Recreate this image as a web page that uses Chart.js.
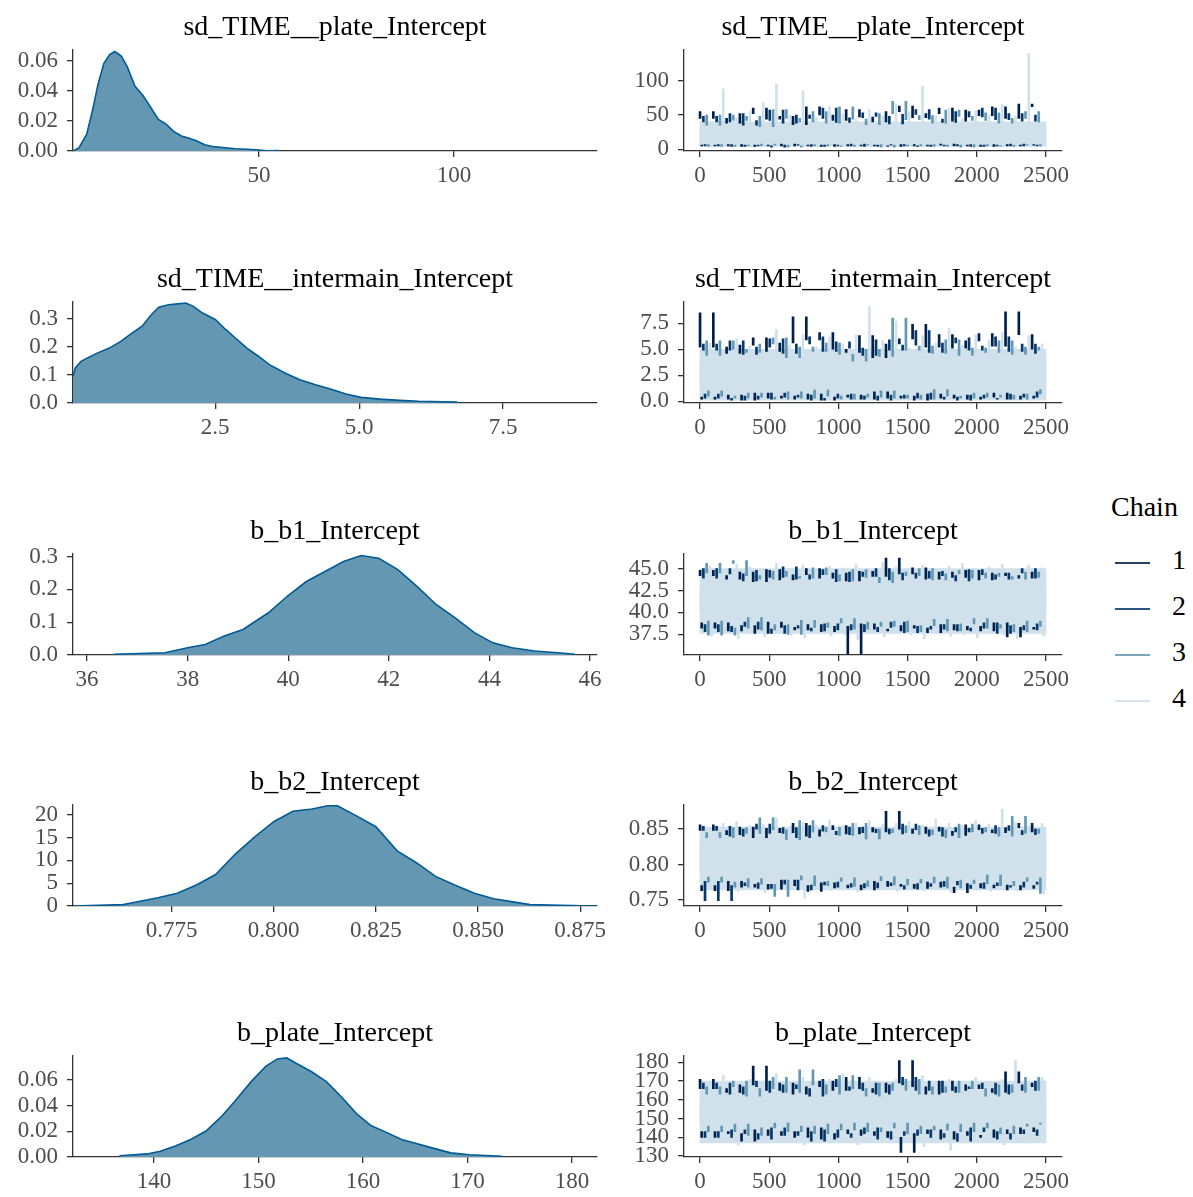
<!DOCTYPE html>
<html>
<head>
<meta charset="utf-8">
<script src="https://cdn.jsdelivr.net/npm/chart.js@4.4.1/dist/chart.umd.min.js"></script>
<style>
  body { margin: 0; background: #fff; width: 1193px; height: 1197px; position: relative; overflow: hidden; font-family: 'Liberation Serif', serif; }
  canvas { position: absolute; }
  .leg { position: absolute; font-size: 28px; line-height: 32px; color: #000; }
  .sw { display: inline-block; width: 35px; height: 2px; vertical-align: middle; margin-right: 22px; opacity: 0.85; }
</style>
</head>
<body>
<div class="leg" style="left:1111px;top:491px;">Chain</div>
<div class="leg" style="left:1115px;top:544px;"><span class="sw" style="background:#011f4b"></span>1</div>
<div class="leg" style="left:1115px;top:590px;"><span class="sw" style="background:#03396c"></span>2</div>
<div class="leg" style="left:1115px;top:636px;"><span class="sw" style="background:#6497b1"></span>3</div>
<div class="leg" style="left:1115px;top:682px;"><span class="sw" style="background:#d1e1ec"></span>4</div>
<script>
var chainColors = ['#011f4b', '#03396c', '#6497b1', '#d1e1ec'];
var paramNames = ['sd_TIME__plate_Intercept', 'sd_TIME__intermain_Intercept', 'b_b1_Intercept', 'b_b2_Intercept', 'b_plate_Intercept'];

// posterior densities (x = parameter value, y = density)
var densPlateX = [2.3, 3.8, 5.8, 7.3, 8.7, 10.2, 11.7, 13.0, 14.7, 16.2, 18.2, 20.2, 22.2, 24.2, 26.1, 28.1, 30.1, 32.1, 34.1, 36.1, 38.1, 42.0, 44.0, 47.0, 50.0, 52.0, 55.0];
var densPlateY = [0, 0.002, 0.011, 0.027, 0.044, 0.058, 0.064, 0.066, 0.063, 0.056, 0.043, 0.037, 0.029, 0.021, 0.018, 0.013, 0.010, 0.0085, 0.0067, 0.0042, 0.003, 0.002, 0.0015, 0.0012, 0.0007, 0.0002, 0.0003];
var densInterX = [0.03, 0.07, 0.17, 0.30, 0.46, 0.66, 0.86, 1.06, 1.23, 1.39, 1.52, 1.69, 1.85, 1.99, 2.12, 2.28, 2.5, 2.65, 2.85, 3.05, 3.25, 3.44, 3.71, 3.97, 4.24, 4.5, 4.77, 5.03, 5.36, 5.7, 6.03, 6.69, 6.72];
var densInterY = [0.095, 0.125, 0.149, 0.163, 0.179, 0.196, 0.22, 0.25, 0.274, 0.315, 0.342, 0.351, 0.354, 0.357, 0.345, 0.321, 0.298, 0.268, 0.232, 0.196, 0.167, 0.137, 0.107, 0.083, 0.065, 0.05, 0.032, 0.02, 0.014, 0.0095, 0.006, 0.003, 0];
var densB1X = [36.53, 37.55, 38.0, 38.35, 38.73, 39.1, 39.6, 39.98, 40.36, 40.74, 41.1, 41.45, 41.8, 42.18, 42.56, 42.94, 43.32, 43.7, 44.07, 44.45, 44.9, 45.36, 45.7];
var densB1Y = [0.002, 0.007, 0.022, 0.032, 0.058, 0.078, 0.128, 0.179, 0.224, 0.255, 0.285, 0.303, 0.295, 0.26, 0.209, 0.154, 0.113, 0.068, 0.037, 0.022, 0.012, 0.007, 0.002];
var densB2X = [0.7509, 0.7632, 0.767, 0.7717, 0.7764, 0.7811, 0.7858, 0.7906, 0.7953, 0.800, 0.8047, 0.8094, 0.8132, 0.8156, 0.8198, 0.825, 0.8302, 0.8349, 0.8396, 0.8443, 0.8491, 0.8538, 0.8585, 0.8627, 0.8755, 0.8791];
var densB2Y = [0, 0.3, 1.0, 1.8, 2.8, 4.6, 6.9, 11.4, 15.1, 18.5, 20.8, 21.3, 22.0, 22.0, 20.0, 17.4, 12.1, 9.5, 6.5, 4.6, 2.8, 1.6, 0.9, 0.3, 0.05, 0];
var densBPlateX = [136.7, 139.35, 140.6, 142.05, 143.5, 144.95, 146.4, 147.8, 149.3, 150.7, 151.8, 152.7, 153.6, 155.05, 156.5, 157.95, 159.4, 160.8, 162.3, 163.7, 165.2, 166.6, 168.4, 170.2, 173.3];
var densBPlateY = [0.001, 0.0024, 0.0045, 0.0085, 0.0137, 0.020, 0.031, 0.044, 0.0587, 0.0706, 0.0764, 0.0772, 0.073, 0.0666, 0.0587, 0.0468, 0.0336, 0.0243, 0.019, 0.0137, 0.0103, 0.0071, 0.0032, 0.0018, 0.0005];

// density axes: limits and tick values
var densXRange = [[2.3, 136.7], [0.03, 9.13], [35.72, 46.14], [0.7509, 0.8791], [132.25, 182.4]];
var densYMax = [0.0673, 0.362, 0.309, 22.25, 0.079];
var densXTicks = [[50, 100], [2.5, 5.0, 7.5], [36, 38, 40, 42, 44, 46], [0.775, 0.800, 0.825, 0.850, 0.875], [140, 150, 160, 170, 180]];
var densYTicks = [[0, 0.02, 0.04, 0.06], [0, 0.1, 0.2, 0.3], [0, 0.1, 0.2, 0.3], [0, 5, 10, 15, 20], [0, 0.02, 0.04, 0.06]];
var densXDec = [0, 1, 0, 3, 0];
var densYDec = [2, 1, 1, 0, 2];

// trace plots: per chain, the high and low excursions every ~100 iterations
var tracePlateHi = [
  [55, 45, 38, 52, 60, 44, 48, 36, 62, 50, 42, 58, 47, 40, 55, 63, 46, 52, 60, 41, 57, 49, 62, 45, 66, 62],
  [48, 40, 52, 35, 42, 57, 38, 50, 45, 60, 39, 46, 53, 48, 37, 51, 58, 44, 39, 55, 47, 60, 43, 52, 41, 50],
  [35, 50, 42, 48, 33, 58, 45, 40, 55, 38, 62, 44, 36, 52, 70, 43, 49, 38, 57, 48, 42, 53, 38, 45, 55, 40],
  [40, 88, 46, 55, 68, 95, 50, 85, 47, 62, 52, 44, 58, 49, 66, 55, 92, 48, 60, 45, 56, 50, 65, 48, 140, 38]];
var tracePlateLo = [
  [6, 5, 7, 4, 6, 5, 8, 5, 6, 4, 7, 5, 6, 5, 4, 7, 5, 6, 8, 5, 6, 4, 7, 5, 6, 7],
  [5, 7, 4, 6, 5, 3, 6, 7, 4, 6, 5, 8, 4, 6, 7, 5, 4, 6, 5, 7, 4, 6, 5, 8, 5, 6],
  [7, 4, 6, 5, 8, 6, 3, 5, 7, 5, 4, 6, 7, 3, 6, 5, 7, 4, 6, 3, 7, 5, 4, 6, 7, 5],
  [3, 6, 5, 3, 4, 7, 5, 4, 3, 6, 5, 4, 3, 5, 6, 4, 3, 5, 4, 6, 3, 5, 6, 4, 3, 5]];
var traceInterHi = [
  [8.5, 5.2, 4.6, 5.4, 6.1, 4.8, 5.6, 8.1, 5.9, 6.6, 5.0, 4.7, 6.3, 4.2, 5.5, 6.0, 7.4, 5.2, 6.4, 5.1, 5.8, 6.5, 5.3, 8.6, 6.4, 5.0],
  [5.5, 4.9, 5.8, 4.5, 5.2, 6.0, 4.6, 5.5, 6.2, 4.8, 5.7, 5.1, 4.4, 5.9, 4.9, 5.4, 6.8, 4.7, 5.6, 6.1, 4.9, 5.3, 6.2, 4.8, 5.5, 4.6],
  [4.4, 5.8, 5.0, 4.7, 5.5, 6.1, 4.2, 5.2, 4.8, 5.6, 4.5, 3.8, 5.0, 4.3, 8.0, 4.9, 5.3, 4.6, 5.9, 4.4, 5.1, 4.7, 5.8, 4.5, 5.2, 4.9],
  [5.6, 4.5, 6.0, 5.3, 4.9, 6.9, 5.4, 6.4, 5.2, 6.2, 5.5, 6.4, 9.1, 5.8, 7.7, 5.1, 6.3, 5.6, 7.0, 5.4, 6.4, 5.9, 6.6, 5.2, 6.3, 5.5]];
var traceInterLo = [
  [0.4, 0.2, 0.6, 0.1, 0.8, 0.3, 0.5, 0.2, 0.7, 0.1, 0.4, 0.6, 0.2, 0.9, 0.3, 0.5, 0.1, 0.7, 0.3, 0.6, 0.2, 0.4, 0.8, 0.2, 0.5, 0.3],
  [0.7, 0.3, 0.1, 0.5, 0.2, 0.8, 0.4, 0.6, 0.1, 0.3, 0.7, 0.2, 0.5, 0.1, 0.6, 0.3, 0.8, 0.2, 0.4, 0.1, 0.6, 0.3, 0.2, 0.7, 0.4, 0.9],
  [1.0, 0.5, 0.3, 0.8, 0.4, 0.2, 0.9, 0.3, 1.1, 0.5, 0.2, 0.7, 0.4, 1.0, 0.3, 0.6, 0.2, 1.2, 0.5, 0.3, 0.8, 0.4, 0.6, 0.2, 0.7, 1.3],
  [0.1, 0.4, 0.2, 0.6, 0.1, 0.3, 0.5, 0.2, 0.4, 0.1, 0.6, 0.3, 0.2, 0.5, 0.1, 0.4, 0.3, 0.2, 0.6, 0.1, 0.3, 0.5, 0.2, 0.4, 0.1, 0.3]];
var traceB1Hi = [
  [44.8, 44.2, 43.8, 44.6, 43.5, 44.9, 43.7, 44.3, 45.0, 43.9, 44.5, 43.6, 44.7, 44.1, 46.2, 44.4, 45.1, 43.8, 44.6, 44.0, 44.8, 43.7, 44.5, 44.2, 43.9, 44.6],
  [43.9, 45.0, 44.4, 43.6, 44.8, 44.0, 45.2, 43.8, 44.3, 44.9, 43.5, 44.6, 44.1, 45.0, 43.7, 44.5, 43.9, 44.7, 44.2, 43.6, 44.9, 44.3, 43.8, 44.5, 45.0, 43.9],
  [44.5, 45.6, 45.9, 44.2, 43.8, 44.7, 44.1, 43.9, 45.1, 44.3, 43.6, 44.9, 44.0, 43.4, 44.6, 44.2, 45.0, 43.7, 44.4, 44.8, 43.9, 44.5, 44.1, 43.8, 44.6, 44.0],
  [45.3, 44.8, 45.5, 45.2, 44.9, 45.6, 45.0, 45.4, 44.8, 45.3, 45.1, 45.5, 44.9, 45.7, 45.2, 45.0, 45.4, 44.8, 45.3, 45.6, 45.0, 45.2, 45.5, 44.9, 45.4, 45.1]];
var traceB1Lo = [
  [38.2, 38.8, 37.9, 38.5, 37.6, 38.9, 38.3, 38.0, 38.6, 37.8, 38.4, 35.3, 38.7, 38.1, 37.9, 38.5, 38.2, 37.7, 38.6, 38.0, 38.4, 37.9, 38.8, 37.2, 38.3, 38.1],
  [38.6, 37.8, 38.4, 38.9, 38.1, 37.6, 38.5, 38.2, 37.9, 38.7, 38.0, 38.6, 37.8, 38.3, 38.9, 37.7, 38.4, 38.1, 38.6, 37.9, 38.2, 38.8, 37.6, 38.5, 38.0, 38.7],
  [39.0, 37.4, 38.2, 39.4, 38.0, 38.6, 37.5, 39.1, 38.3, 38.8, 39.3, 38.1, 38.9, 38.4, 39.0, 37.8, 38.5, 39.2, 37.9, 38.7, 39.3, 38.2, 38.6, 37.8, 39.0, 38.4],
  [37.3, 37.8, 37.0, 37.6, 37.2, 37.9, 37.4, 37.1, 37.7, 37.3, 37.5, 36.9, 37.6, 37.2, 37.8, 37.4, 37.0, 37.6, 37.3, 37.5, 37.1, 37.7, 37.4, 37.0, 37.6, 37.3]];
var traceB2Hi = [
  [0.856, 0.848, 0.842, 0.853, 0.838, 0.851, 0.845, 0.858, 0.840, 0.849, 0.855, 0.843, 0.852, 0.846, 0.875, 0.850, 0.844, 0.853, 0.847, 0.841, 0.856, 0.849, 0.845, 0.852, 0.858, 0.846],
  [0.848, 0.854, 0.840, 0.850, 0.857, 0.844, 0.852, 0.838, 0.855, 0.847, 0.842, 0.853, 0.845, 0.850, 0.843, 0.857, 0.849, 0.840, 0.852, 0.846, 0.851, 0.844, 0.855, 0.848, 0.842, 0.850],
  [0.845, 0.838, 0.852, 0.844, 0.866, 0.849, 0.835, 0.862, 0.846, 0.853, 0.841, 0.858, 0.836, 0.850, 0.845, 0.855, 0.842, 0.849, 0.838, 0.857, 0.846, 0.852, 0.840, 0.868, 0.844, 0.850],
  [0.852, 0.858, 0.861, 0.855, 0.857, 0.866, 0.854, 0.860, 0.856, 0.863, 0.855, 0.859, 0.862, 0.857, 0.858, 0.861, 0.855, 0.864, 0.858, 0.856, 0.862, 0.857, 0.878, 0.860, 0.855, 0.858]];
var traceB2Lo = [
  [0.770, 0.763, 0.776, 0.768, 0.772, 0.765, 0.778, 0.770, 0.762, 0.774, 0.767, 0.771, 0.764, 0.776, 0.769, 0.772, 0.766, 0.775, 0.768, 0.760, 0.773, 0.767, 0.771, 0.764, 0.770, 0.766],
  [0.776, 0.749, 0.770, 0.774, 0.766, 0.772, 0.778, 0.764, 0.771, 0.775, 0.768, 0.773, 0.767, 0.774, 0.770, 0.765, 0.773, 0.769, 0.776, 0.771, 0.766, 0.774, 0.770, 0.768, 0.775, 0.772],
  [0.782, 0.775, 0.768, 0.780, 0.772, 0.755, 0.778, 0.784, 0.770, 0.776, 0.781, 0.769, 0.777, 0.783, 0.771, 0.779, 0.774, 0.782, 0.767, 0.778, 0.773, 0.785, 0.770, 0.776, 0.781, 0.759],
  [0.765, 0.768, 0.762, 0.766, 0.760, 0.764, 0.767, 0.752, 0.765, 0.763, 0.768, 0.761, 0.766, 0.764, 0.762, 0.767, 0.763, 0.765, 0.761, 0.766, 0.764, 0.762, 0.767, 0.763, 0.765, 0.758]];
var traceBPlateHi = [
  [171, 166, 164, 168, 178, 165, 169, 163, 167, 170, 165, 172, 166, 164, 169, 181, 167, 163, 170, 165, 168, 166, 164, 175, 169, 167],
  [166, 169, 163, 167, 170, 164, 168, 166, 162, 171, 167, 165, 169, 163, 168, 172, 165, 170, 164, 167, 166, 169, 163, 168, 165, 170],
  [163, 167, 170, 162, 166, 172, 164, 176, 168, 163, 173, 166, 162, 169, 165, 171, 163, 167, 164, 170, 166, 162, 168, 164, 172, 165],
  [170, 173, 168, 171, 169, 174, 170, 172, 169, 171, 174, 170, 172, 168, 171, 170, 173, 169, 171, 170, 172, 169, 171, 181, 170, 172]];
var traceBPlateLo = [
  [140, 143, 142, 138, 144, 141, 143, 140, 145, 139, 142, 144, 141, 143, 140, 132, 142, 144, 139, 143, 141, 140, 144, 142, 145, 143],
  [143, 140, 144, 142, 139, 145, 141, 143, 138, 144, 140, 142, 145, 139, 143, 141, 144, 140, 142, 138, 145, 143, 139, 142, 144, 141],
  [146, 143, 147, 141, 145, 148, 143, 146, 142, 147, 144, 149, 143, 145, 148, 142, 146, 144, 147, 143, 148, 145, 142, 146, 147, 149],
  [138, 140, 136, 139, 137, 141, 138, 136, 140, 137, 139, 136, 138, 141, 137, 139, 135, 138, 133, 137, 140, 138, 136, 139, 137, 138]];
// typical range covered by the chains (outer envelope and dense core)
var traceEnvelope = [[4, 40], [0.1, 5.0], [37.6, 45.0], [0.764, 0.853], [137, 170]];
var traceCore = [[9, 30], [1.2, 3.8], [40.3, 42.8], [0.790, 0.833], [148, 160]];

// trace axes
var traceYRange = [[-2.5, 145.3], [-0.16, 9.57], [35.14, 46.71], [0.7413, 0.8846], [129.5, 183.6]];
var traceYTicks = [[0, 50, 100], [0, 2.5, 5.0, 7.5], [37.5, 40.0, 42.5, 45.0], [0.75, 0.80, 0.85], [130, 140, 150, 160, 170, 180]];
var traceYDec = [0, 1, 1, 2, 0];
var iterRange = [-116, 2616];
var iterTicks = [0, 500, 1000, 1500, 2000, 2500];

var densX = [densPlateX, densInterX, densB1X, densB2X, densBPlateX];
var densY = [densPlateY, densInterY, densB1Y, densB2Y, densBPlateY];
var traceHi = [tracePlateHi, traceInterHi, traceB1Hi, traceB2Hi, traceBPlateHi];
var traceLo = [tracePlateLo, traceInterLo, traceB1Lo, traceB2Lo, traceBPlateLo];

var rowTops = [0, 252, 504, 755, 1006];
var FONT = 'Liberation Serif';

function makeAxis(min, max, tickVals, dec, isX, fixed) {
  return {
    type: 'linear', min: min, max: max, offset: false,
    border: { display: true, color: '#333', width: 1.3 },
    grid: { display: true, drawOnChartArea: false, drawTicks: true, tickLength: 6, color: '#333', lineWidth: 1.3, offset: false },
    ticks: {
      autoSkip: false, maxRotation: 0, padding: isX ? 5 : 9,
      color: '#4d4d4d', font: { family: FONT, size: 23 },
      callback: function (v) { return Number(v).toFixed(dec); }
    },
    afterBuildTicks: function (s) { s.ticks = tickVals.map(function (v) { return { value: v }; }); },
    afterFit: function (s) { if (isX) { s.height = fixed; } else { s.width = fixed; } }
  };
}

// empty right-hand axis, same width as the left one, so the title centres over the panel
function spacerAxis(w) {
  return {
    type: 'linear', position: 'right', display: true,
    grid: { display: false, drawTicks: false }, border: { display: false }, ticks: { display: false },
    afterFit: function (s) { s.width = w; }
  };
}

function makeCanvas(left, y, w, h) {
  var c = document.createElement('canvas');
  c.width = w; c.height = h;
  c.style.left = left + 'px'; c.style.top = y + 'px';
  document.body.appendChild(c);
  return c;
}

function baseOptions(title) {
  return {
    responsive: false, animation: false, devicePixelRatio: 1,
    layout: { padding: 0 },
    plugins: {
      legend: { display: false }, tooltip: { enabled: false },
      title: { display: true, text: title, color: '#000', font: { family: FONT, size: 28, weight: 'normal' }, padding: { top: 11, bottom: 5 } }
    }
  };
}

// vertical trace segments joining successive excursions of one chain
function segments(vals, shift) {
  return vals.map(function (v, i) {
    var prev = i === 0 ? vals[1] : vals[i - 1];
    return { x: i * 96 + shift, y: [prev, v] };
  });
}

function drawPanel(p) {
  var rowTop = rowTops[p];

  // density panel
  var pts = densX[p].map(function (x, i) { return { x: x, y: densY[p][i] }; });
  var dOpt = baseOptions(paramNames[p]);
  dOpt.scales = {
    x: makeAxis(densXRange[p][0], densXRange[p][1], densXTicks[p], densXDec[p], true, 49),
    y: makeAxis(0, densYMax[p], densYTicks[p], densYDec[p], false, 73),
    y2: spacerAxis(73)
  };
  new Chart(makeCanvas(0, rowTop, 670, 200), {
    type: 'line',
    data: { datasets: [{ data: pts, borderColor: '#005b96', borderWidth: 1.6, backgroundColor: '#6497b1', fill: 'origin', pointRadius: 0, tension: 0 }] },
    options: dOpt
  });

  // trace panel
  var env = traceEnvelope[p], core = traceCore[p];
  var mid = (core[0] + core[1]) / 2;
  var bandX = [];
  for (var b = 0; b < 25; b++) bandX.push(50 + b * 100);
  var sets = [];
  sets.push({ data: bandX.map(function (x) { return { x: x, y: [env[0], env[1]] }; }), backgroundColor: chainColors[3], barThickness: 14, order: 20 });
  // chain 4 (lightest) spans from the core out to its excursions
  sets.push({ data: traceHi[p][3].map(function (v, i) { return { x: i * 96 + 72, y: [mid, v] }; }), backgroundColor: chainColors[3], barThickness: 2, order: 13 });
  sets.push({ data: traceLo[p][3].map(function (v, i) { return { x: i * 96 + 84, y: [mid, v] }; }), backgroundColor: chainColors[3], barThickness: 2, order: 13 });
  [2, 1, 0].forEach(function (c) {
    sets.push({ data: segments(traceHi[p][c], c * 24), backgroundColor: chainColors[c], barThickness: 2, order: 10 + c });
    sets.push({ data: segments(traceLo[p][c], c * 24 + 12), backgroundColor: chainColors[c], barThickness: 2, order: 10 + c });
  });
  sets.push({ data: bandX.map(function (x) { return { x: x, y: [core[0], core[1]] }; }), backgroundColor: chainColors[3], barThickness: 14, order: 0 });
  sets.forEach(function (s) { s.grouped = false; s.borderWidth = 0; });

  var tOpt = baseOptions(paramNames[p]);
  tOpt.scales = {
    x: makeAxis(iterRange[0], iterRange[1], iterTicks, 0, true, 49),
    y: makeAxis(traceYRange[p][0], traceYRange[p][1], traceYTicks[p], traceYDec[p], false, 84),
    y2: spacerAxis(84)
  };
  new Chart(makeCanvas(600, rowTop, 546, 200), { type: 'bar', data: { datasets: sets }, options: tOpt });
}

for (var p = 0; p < 5; p++) drawPanel(p);
</script>
</body>
</html>
